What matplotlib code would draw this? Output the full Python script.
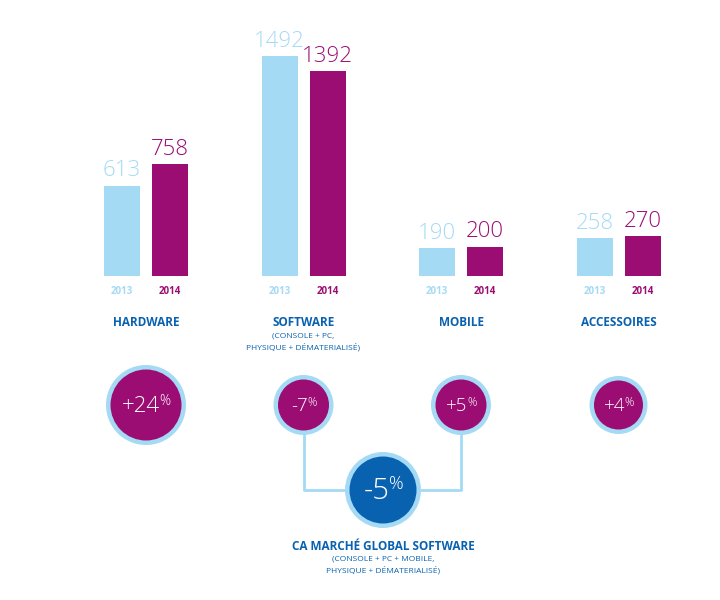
import matplotlib
matplotlib.use("Agg")
import matplotlib.pyplot as plt
from matplotlib.patches import Circle

# data
categories = ["HARDWARE", "SOFTWARE", "MOBILE", "ACCESSOIRES"]
subtitles = ["", "(CONSOLE + PC,\nPHYSIQUE + DÉMATERIALISÉ)", "", ""]
years = ["2013", "2014"]
values_2013 = [613, 1492, 190, 258]
values_2014 = [758, 1392, 200, 270]
growth = ["+24", "-7", "+5", "+4"]
global_growth = "-5"
global_title = "CA MARCHÉ GLOBAL SOFTWARE"
global_sub = "(CONSOLE + PC + MOBILE,\nPHYSIQUE + DÉMATERIALISÉ)"

LIGHT = "#a5daf5"
PURPLE = "#9b0d73"
BLUE = "#0862b0"
NUM_FONT = ["Open Sans", "DejaVu Sans"]
LAB_FONT = ["Open Sans", "DejaVu Sans"]

fig = plt.figure(figsize=(7.2, 6), dpi=100)

# bar axes: baseline at 276 px from top, 1 unit per 157.5 px horizontally
UNIT = 157.5
X0 = 146
base_frac = (600 - 276) / 600
yscale = 220 / 1492  # px per unit
ymax = 1600
ax = fig.add_axes([0, base_frac, 1, ymax * yscale / 600])
ax.set_xlim(-X0 / UNIT, (720 - X0) / UNIT)
ax.set_ylim(0, ymax)
ax.axis("off")

x = list(range(len(categories)))
w = 36 / UNIT
off = 24 / UNIT
b1 = ax.bar([i - off for i in x], values_2013, width=w, color=LIGHT)
b2 = ax.bar([i + off for i in x], values_2014, width=w, color=PURPLE)
for bars, vals, col in [(b1, values_2013, LIGHT), (b2, values_2014, PURPLE)]:
    for r, v in zip(bars, vals):
        ax.annotate(str(v), (r.get_x() + r.get_width() / 2, v), xytext=(0, 3),
                    textcoords="offset points", ha="center", va="bottom",
                    fontsize=16, color=col, family=NUM_FONT, fontweight="light")

# overlay axes in pixel coordinates
ov = fig.add_axes([0, 0, 1, 1])
ov.set_xlim(0, 720)
ov.set_ylim(600, 0)
ov.axis("off")

def px(xd):
    # data x of bar axes -> pixel x
    return X0 + xd * UNIT

for i, cat in enumerate(categories):
    ov.text(px(i - off), 291, years[0], ha="center", va="center", fontsize=7,
            fontweight="bold", color=LIGHT, family=LAB_FONT)
    ov.text(px(i + off), 291, years[1], ha="center", va="center", fontsize=7,
            fontweight="bold", color=PURPLE, family=LAB_FONT)
    ov.text(px(i), 323, cat, ha="center", va="center", fontsize=8.5,
            fontweight="bold", color=BLUE, family=LAB_FONT)
    if subtitles[i]:
        ov.text(px(i), 342, subtitles[i], ha="center", va="center", fontsize=6,
                color=BLUE, family=LAB_FONT, linespacing=1.5)

# connector lines
cy = 405
gx, gy = 383, 490
ov.plot([px(1), px(1), gx], [cy, gy, gy], color=LIGHT, lw=2, zorder=1)
ov.plot([px(2), px(2), gx], [cy, gy, gy], color=LIGHT, lw=2, zorder=1)

def badge(cx, cy, r, fill, label, fs):
    ov.add_patch(Circle((cx, cy), r, facecolor=LIGHT, edgecolor="none", zorder=2))
    ov.add_patch(Circle((cx, cy), r - 4.5, facecolor=fill, edgecolor="none", zorder=3))
    t = ov.text(cx - fs * 0.3, cy + 1, label, ha="center", va="center", fontsize=fs,
                color="white", family=NUM_FONT, fontweight="light", zorder=4)
    ov.annotate("%", xy=(0.97, 1.05), xycoords=t, ha="left", va="top",
                fontsize=fs * 0.62, color="white", family=NUM_FONT,
                fontweight="light", zorder=4)

radii = [40, 30, 30, 29]
sizes = [16, 13.5, 13.5, 13.5]
for i, g in enumerate(growth):
    badge(px(i), cy, radii[i], PURPLE, g, sizes[i])

badge(gx, gy, 38, BLUE, global_growth, 21)
ov.text(gx, 546, global_title, ha="center", va="center", fontsize=8.5,
        fontweight="bold", color=BLUE, family=LAB_FONT)
ov.text(gx, 565, global_sub, ha="center", va="center", fontsize=6,
        color=BLUE, family=LAB_FONT, linespacing=1.5)

fig.savefig("out.png", dpi=100)
